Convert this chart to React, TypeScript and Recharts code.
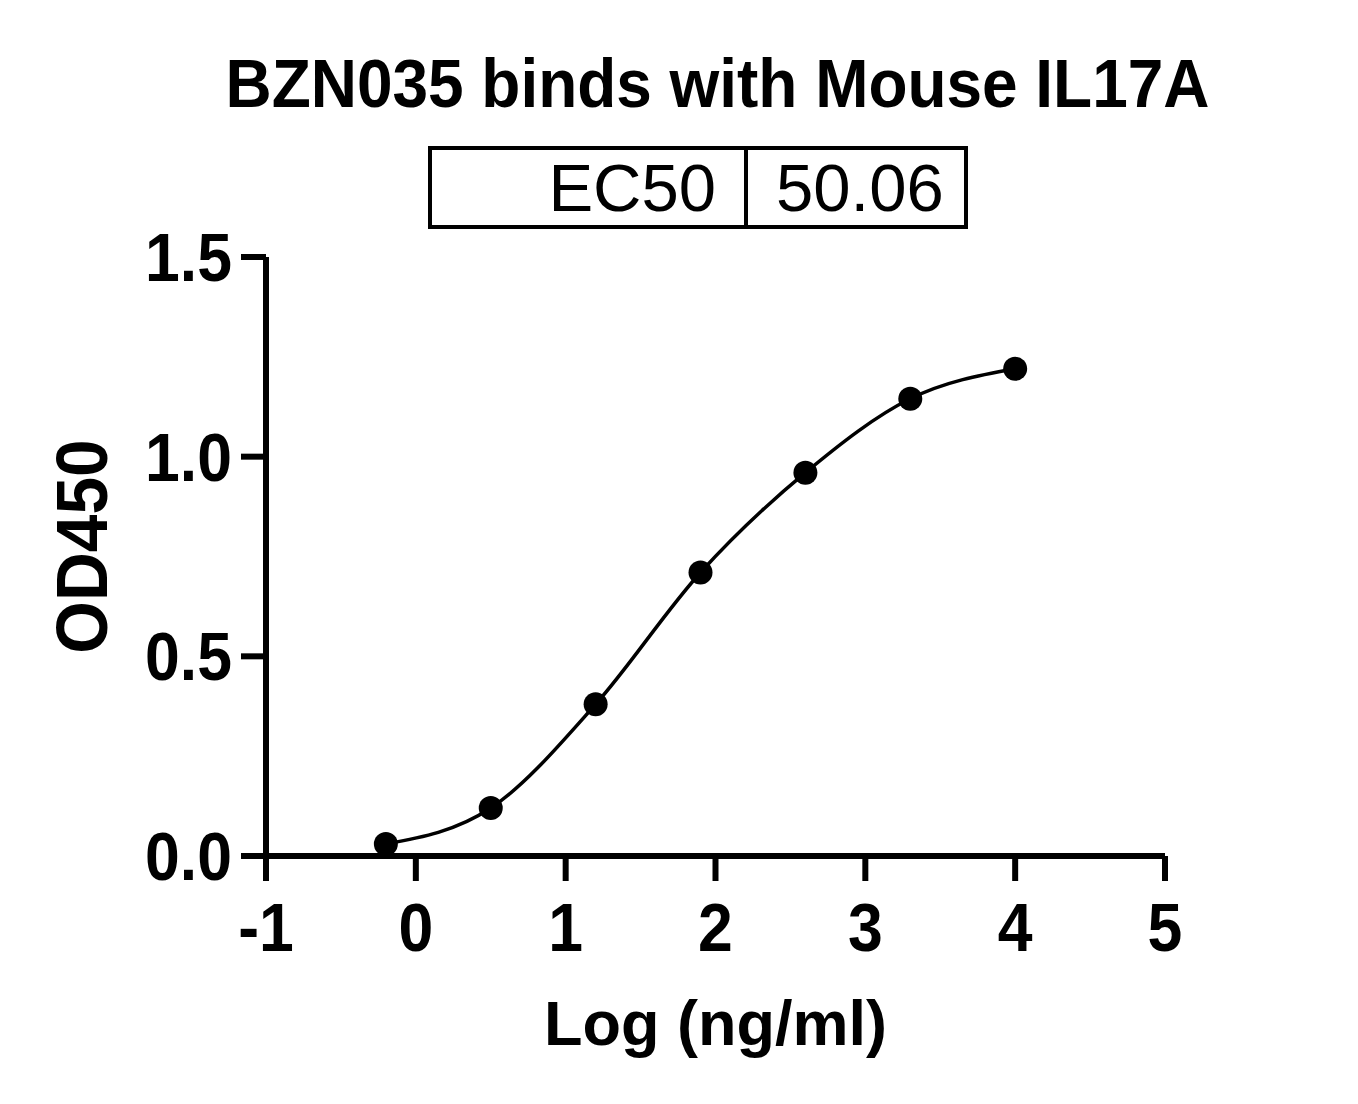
import { ComposedChart, Line, XAxis, YAxis, Label } from "recharts";

const logConc = [-0.2, 0.5, 1.2, 1.9, 2.6, 3.3, 4.0];
const od450 = [0.03, 0.12, 0.38, 0.71, 0.96, 1.145, 1.22];
const xTicks = [-1, 0, 1, 2, 3, 4, 5];
const yTicks = [0, 0.5, 1.0, 1.5];

const title = "BZN035 binds with Mouse IL17A";
const ec50Label = "EC50";
const ec50Value = "50.06";

const data = logConc.map((x, i) => ({ x, y: od450[i] }));

const FONT = "'Liberation Sans', Arial, sans-serif";
const SQUEEZE = 0.92;

// bold tick text, a bit condensed like the original export
function XTick(props: any) {
  const { x, y, payload } = props;
  return (
    <g transform={`translate(${x},${y}) scale(${SQUEEZE},1)`}>
      <text
        x={0}
        y={0}
        dy="0.71em"
        textAnchor="middle"
        fontSize={68}
        fontWeight="bold"
        fill="#000"
        stroke="none"
        fontFamily={FONT}
      >
        {payload.value}
      </text>
    </g>
  );
}

function YTick(props: any) {
  const { x, y, payload } = props;
  return (
    <g transform={`translate(${x},${y}) scale(${SQUEEZE},1)`}>
      <text
        x={0}
        y={0}
        dy="0.355em"
        textAnchor="end"
        fontSize={68}
        fontWeight="bold"
        fill="#000"
        stroke="none"
        fontFamily={FONT}
      >
        {Number(payload.value).toFixed(1)}
      </text>
    </g>
  );
}

export default function App() {
  return (
    <div
      style={{
        position: "absolute",
        left: 0,
        top: 0,
        width: 1358,
        height: 1104,
        background: "#fff",
        fontFamily: FONT,
      }}
    >
      <div
        style={{
          position: "absolute",
          left: 0,
          width: 1435,
          top: 49,
          textAlign: "center",
          fontSize: 68,
          lineHeight: "68px",
          fontWeight: "bold",
          color: "#000",
          whiteSpace: "nowrap",
          transform: "scaleX(0.94)",
        }}
      >
        {title}
      </div>

      <div
        style={{
          position: "absolute",
          left: 428,
          top: 146,
          width: 540,
          height: 83,
          boxSizing: "border-box",
          border: "4px solid #000",
          display: "flex",
          fontSize: 67,
          lineHeight: "75px",
          color: "#000",
          whiteSpace: "nowrap",
        }}
      >
        <div
          style={{
            width: 316,
            borderRight: "4px solid #000",
            textAlign: "right",
            paddingRight: 28,
            boxSizing: "border-box",
          }}
        >
          {ec50Label}
        </div>
        <div style={{ paddingLeft: 28 }}>{ec50Value}</div>
      </div>

      <ComposedChart
        width={1358}
        height={1104}
        data={data}
        margin={{ top: 257, right: 193, bottom: 0, left: 0 }}
      >
        <XAxis
          type="number"
          dataKey="x"
          domain={[-1, 5]}
          ticks={xTicks}
          interval={0}
          height={248}
          stroke="#000"
          strokeWidth={6}
          axisLine={{ stroke: "#000", strokeWidth: 6 }}
          tickLine={{ stroke: "#000", strokeWidth: 6 }}
          tickSize={25}
          tickMargin={22}
          tick={<XTick />}
        >
          <Label
            value="Log (ng/ml)"
            position="insideBottom"
            offset={59}
            style={{ fontSize: 63, fontWeight: "bold", fill: "#000", stroke: "none", fontFamily: FONT }}
          />
        </XAxis>
        <YAxis
          type="number"
          domain={[0, 1.5]}
          ticks={yTicks}
          interval={0}
          width={266}
          stroke="#000"
          strokeWidth={6}
          axisLine={{ stroke: "#000", strokeWidth: 6 }}
          tickLine={{ stroke: "#000", strokeWidth: 6 }}
          tickSize={25}
          tickMargin={9}
          tick={<YTick />}
        >
          <Label
            content={(props: any) => {
              const vb = props.viewBox || {};
              const cx = vb.x + 107;
              const cy = vb.y + vb.height / 2 - 10;
              return (
                <g transform={`translate(${cx},${cy}) rotate(-90) scale(0.94,1)`}>
                  <text
                    x={0}
                    y={0}
                    textAnchor="middle"
                    fontSize={72}
                    fontWeight="bold"
                    fill="#000"
                    stroke="none"
                    fontFamily={FONT}
                  >
                    OD450
                  </text>
                </g>
              );
            }}
          />
        </YAxis>
        <Line
          type="monotone"
          dataKey="y"
          stroke="#000"
          strokeWidth={3.5}
          dot={{ r: 12, fill: "#000", stroke: "none" }}
          activeDot={false}
          isAnimationActive={false}
        />
      </ComposedChart>
    </div>
  );
}
